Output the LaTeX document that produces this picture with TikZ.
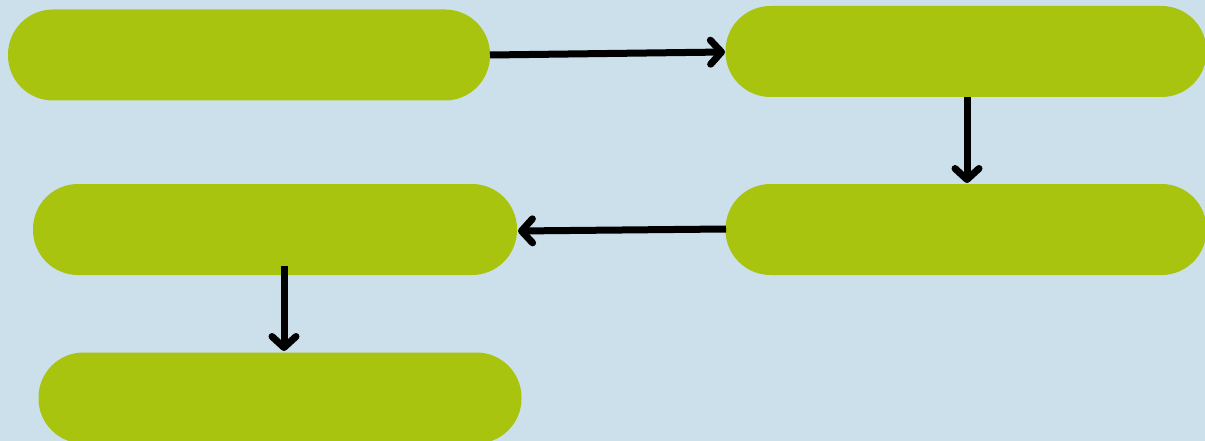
\documentclass[tikz,border=0pt]{standalone}
\usetikzlibrary{arrows.meta}
\definecolor{bgblue}{HTML}{CCE0EC}
\definecolor{pillgreen}{HTML}{A8C40E}
\begin{document}
\begin{tikzpicture}[x=1pt,y=-1pt,
  pill/.style={fill=pillgreen, draw=none, rounded corners=45pt, inner sep=0pt, minimum height=91pt},
  conn/.style={line width=7pt, draw=black, -{Straight Barb[round, length=11pt, width=24pt, line width=7pt]}}]
\fill[bgblue] (0,0) rectangle (1205,441);
\useasboundingbox (0,0) rectangle (1205,441);
\node[pill, minimum width=482pt] (a) at (249,55) {};
\node[pill, minimum width=481pt] (b) at (966,51.5) {};
\node[pill, minimum width=481pt] (c) at (966,229.5) {};
\node[pill, minimum width=484pt] (d) at (275,229.5) {};
\node[pill, minimum width=483pt] (e) at (280,398) {};
\coordinate (a1) at (490,55);
\coordinate (b1) at (725,52);
\draw[conn] (a1) -- (b1);
\coordinate (b2) at (967,97);
\coordinate (c2) at (967,183);
\draw[conn] (b2) -- (c2);
\coordinate (c3) at (726,229);
\coordinate (d3) at (518,231);
\draw[conn] (c3) -- (d3);
\coordinate (d4) at (284,266);
\coordinate (e4) at (284,351);
\draw[conn] (d4) -- (e4);
\end{tikzpicture}
\end{document}
